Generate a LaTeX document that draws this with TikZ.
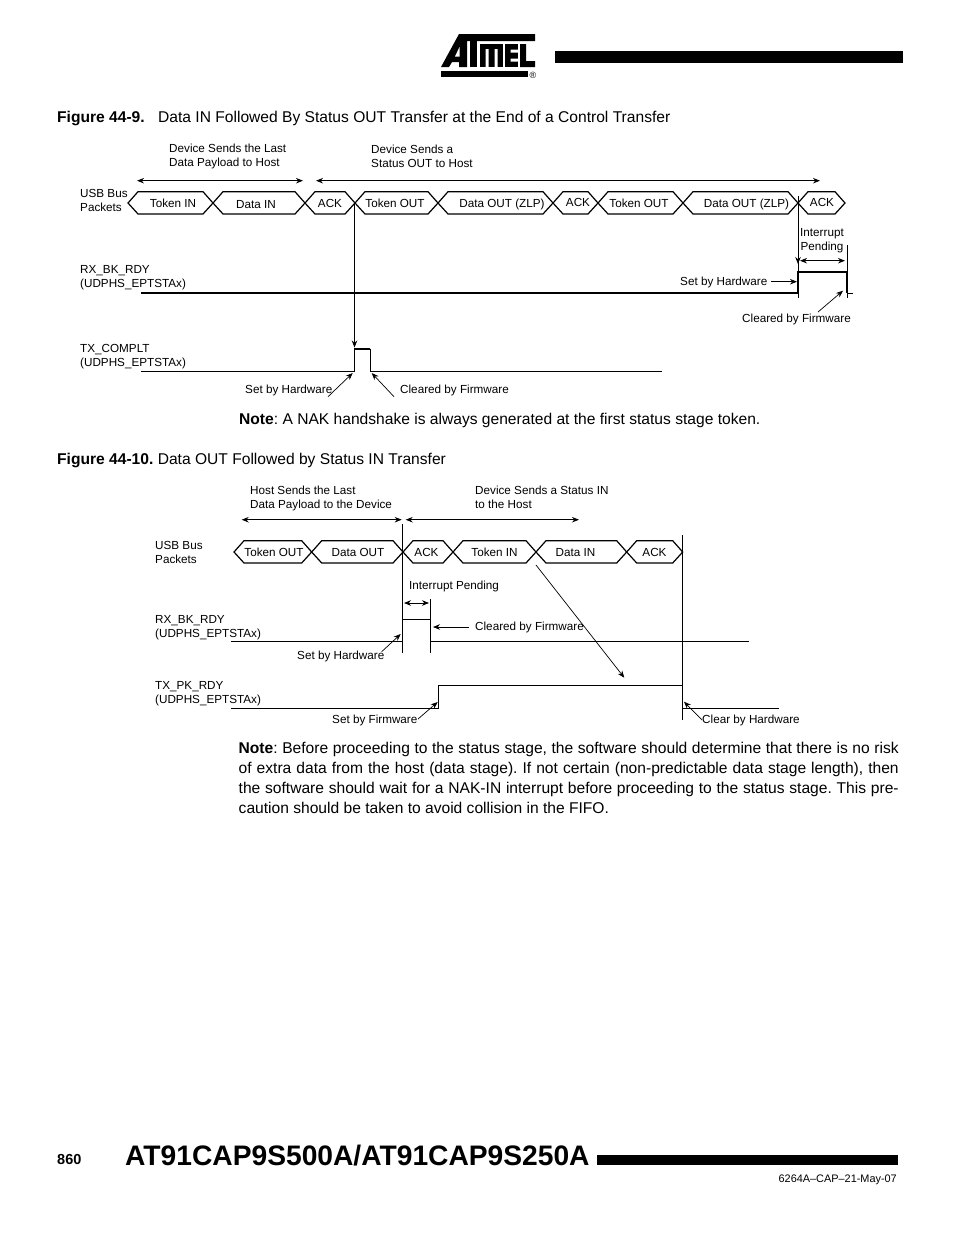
\documentclass[tikz,border=0pt]{standalone}
\usepackage{fontspec}
\setmainfont{Liberation Sans}
\usetikzlibrary{arrows.meta,calc}

\newcommand{\smalltxt}{\fontsize{11.7}{14}\selectfont}
\newcommand{\bodytxt}{\frenchspacing\fontsize{15.6}{20}\selectfont}

\tikzset{
  % --- labels
  lbl/.style={anchor=west,inner sep=0pt,align=left,font=\smalltxt},
  pkt/.style={inner sep=0pt,font=\smalltxt,text height=8.5pt,text depth=2.5pt},
  bodyline/.style={anchor=west,inner sep=0pt,font=\bodytxt},
  % --- line weights
  packet/.style={draw,line width=1.2pt,line join=miter},
  wave/.style={draw,line width=1.6pt},
  wavethin/.style={draw,line width=1pt},
  thin line/.style={draw,line width=0.7pt},
  ptr/.style={draw,line width=0.7pt,-{Stealth[length=7pt,width=5.5pt]}},
  span/.style={draw,line width=0.8pt,{Stealth[length=7pt,width=5.5pt]}-{Stealth[length=7pt,width=5.5pt]}},
  solidbar/.style={fill=black,draw=none},
}

\begin{document}
\begin{tikzpicture}[x=1pt,y=-1pt]
\useasboundingbox (0,0) rectangle (954,1235);

%========================
% Page header
%========================
\fill[white] (0,0) rectangle (954,1235);
\fill[solidbar] (555,51) rectangle (903,63);
% logo: band with the A, then T, M, E, L and the bar below
\fill[solidbar] (459,34) -- (535,34) -- (535,41) -- (467,41) -- (467,67) -- (459,67) -- (459,62)
  -- (452,62) -- (449,67) -- (441,67) -- cycle;
\fill[white] (459.5,47) -- (459.5,56.5) -- (455,56.5) -- cycle;
\fill[solidbar] (470,41) rectangle (477,67);
\fill[solidbar] (480,44) rectangle (503,67);
\fill[white] (485.5,49) rectangle (488.5,67) (494.5,49) rectangle (497.5,67);
\fill[solidbar] (505,44) rectangle (518,67);
\fill[white] (510.5,49.5) rectangle (518,52.5) (510.5,58.5) rectangle (518,61.5);
\fill[solidbar] (520,44) -- (526,44) -- (526,61) -- (535,61) -- (535,67) -- (520,67) -- cycle;
\fill[solidbar] (441,70.5) rectangle (528,76.5);
\node[inner sep=0pt,font=\fontsize{9}{9}\selectfont] (logoreg) at (533,75) {®};

%========================
% Figure 44-9
%========================
\node[bodyline] (figA) at (57,118.5) {\textbf{Figure 44-9.}};
\node[bodyline] (figAtitle) at (158,118.5) {Data IN Followed By Status OUT Transfer at the End of a Control Transfer};

\node[lbl] (sendA) at (169,156) {Device Sends the Last\\Data Payload to Host};
\node[lbl] (sendB) at (371,156) {Device Sends a\\Status OUT to Host};
\node[lbl] (usbA) at (80,200) {USB Bus\\Packets};
\node[lbl] (rxA) at (80,278) {RX\_BK\_RDY\\(UDPHS\_EPTSTAx)};
\node[lbl] (txA) at (80,356.5) {TX\_COMPLT\\(UDPHS\_EPTSTAx)};

\coordinate (spanAl) at (137,180.7);
\coordinate (spanAr) at (303,180.7);
\coordinate (spanBl) at (316,180.7);
\coordinate (spanBr) at (820,180.7);
\draw[span] (spanAl) -- (spanAr);
\draw[span] (spanBl) -- (spanBr);

% packets: start/end/label centre/label y/text
\foreach \xa/\xb/\xc/\yc/\txt in {
  128/213/173/204.3/Token IN,
  213/305/256/205.3/Data IN,
  305/355/330/204.3/ACK,
  355/438/395/204.3/Token OUT,
  438/553/502/204.7/Data OUT (ZLP),
  553/598/578/203.7/ACK,
  598/683/639/204.7/Token OUT,
  683/798/746.5/204.7/Data OUT (ZLP),
  798/845/822/203.7/ACK}{
  \draw[packet] (\xa,203) -- (\xa+10,191.7) -- (\xb-10,191.7) -- (\xb,203)
    -- (\xb-10,214) -- (\xa+10,214) -- cycle;
  \node[pkt] at (\xc,\yc) {\txt};
}

% RX_BK_RDY
\draw[wave] (141,293) -- (798,293) -- (798,271.7) -- (847,271.7) -- (847,293);
\draw[thin line] (847,293) -- (852.5,293);
\draw[thin line] (847,245) -- (847,298);
\draw[thin line] (798,196) -- (798,298);
\coordinate (edgeAtop) at (798,240);
\coordinate (edgeAtip) at (798,264);
\draw[ptr] (edgeAtop) -- (edgeAtip);
\node[lbl,align=center,anchor=center] (pendA) at (822,241) {Interrupt\\Pending};
\coordinate (pendAl) at (800,260.7);
\coordinate (pendAr) at (845,260.7);
\draw[span] (pendAl) -- (pendAr);
\node[lbl] (setA) at (680,282) {Set by Hardware};
\coordinate (setAfoot) at (771,281.7);
\coordinate (setAtip) at (797,281.7);
\draw[ptr] (setAfoot) -- (setAtip);
\node[lbl] (clrA) at (742,319) {Cleared by Firmware};
\coordinate (clrAfoot) at (818,312);
\coordinate (clrAtip) at (843,290.7);
\draw[ptr] (clrAfoot) -- (clrAtip);

% TX_COMPLT
\draw[wavethin] (141,371) -- (354.5,371);
\draw[wave] (354.5,371) -- (354.5,348.7) -- (370,348.7);
\draw[wavethin] (370,348.7) -- (370,371) -- (662,371);
\coordinate (ackEnd) at (354.5,204);
\coordinate (txAtip) at (354.5,347.5);
\draw[ptr] (ackEnd) -- (txAtip);
\node[lbl] (setB) at (245,390) {Set by Hardware};
\node[lbl] (clrB) at (400,390) {Cleared by Firmware};
\coordinate (setBfoot) at (328,396.7);
\coordinate (setBtip) at (352.7,373);
\coordinate (clrBfoot) at (394,396.7);
\coordinate (clrBtip) at (371.7,373);
\draw[ptr] (setBfoot) -- (setBtip);
\draw[ptr] (clrBfoot) -- (clrBtip);

\node[bodyline] (noteA) at (239,420.5) {\textbf{Note}: A NAK handshake is always generated at the first status stage token.};

%========================
% Figure 44-10
%========================
\node[bodyline] (figB) at (57,460.5) {\textbf{Figure 44-10.} Data OUT Followed by Status IN Transfer};

\node[lbl] (sendC) at (250,498) {Host Sends the Last\\Data Payload to the Device};
\node[lbl] (sendD) at (475,497) {Device Sends a Status IN\\to the Host};
\node[lbl] (usbB) at (155,552) {USB Bus\\Packets};
\node[lbl] (rxB) at (155,628) {RX\_BK\_RDY\\(UDPHS\_EPTSTAx)};
\node[lbl] (txB) at (155,694) {TX\_PK\_RDY\\(UDPHS\_EPTSTAx)};

\coordinate (spanCl) at (241.7,519.7);
\coordinate (spanCr) at (401.7,519.7);
\coordinate (spanDl) at (405.7,519.7);
\coordinate (spanDr) at (579,519.7);
\draw[span] (spanCl) -- (spanCr);
\draw[span] (spanDl) -- (spanDr);

\foreach \xa/\xb/\xc/\yc/\txt in {
  234/311.7/274/553.5/Token OUT,
  311.7/403/358/553.5/Data OUT,
  403/453/426.5/553.5/ACK,
  453/536/494.5/553.5/Token IN,
  536/626.7/575.5/553.5/Data IN,
  626.7/682.7/654.5/553.5/ACK}{
  \draw[packet] (\xa,552) -- (\xa+10,540.7) -- (\xb-10,540.7) -- (\xb,552)
    -- (\xb-10,563) -- (\xa+10,563) -- cycle;
  \node[pkt] at (\xc,\yc) {\txt};
}

% RX_BK_RDY
\draw[wavethin] (230.7,641.7) -- (402.3,641.7) -- (402.3,619) -- (430.3,619) -- (430.3,641.7) -- (749,641.7);
\draw[thin line] (402.3,524) -- (402.3,653);
\draw[thin line] (430.3,599) -- (430.3,653);
\node[lbl] (pendB) at (409,586) {Interrupt Pending};
\coordinate (pendBl) at (404,603);
\coordinate (pendBr) at (429,603);
\draw[span] (pendBl) -- (pendBr);
\node[lbl] (clrC) at (475,627) {Cleared by Firmware};
\coordinate (clrCfoot) at (469,627);
\coordinate (clrCtip) at (433,627);
\draw[ptr] (clrCfoot) -- (clrCtip);
\node[lbl] (setC) at (297,656) {Set by Hardware};
\coordinate (setCfoot) at (381.7,651.7);
\coordinate (setCtip) at (400.7,634);
\draw[ptr] (setCfoot) -- (setCtip);

% TX_PK_RDY
\draw[wavethin] (230.7,708.3) -- (438.5,708.3) -- (438.5,685.7) -- (682.7,685.7) -- (682.7,708.3) -- (779,708.3);
\draw[thin line] (682.7,535) -- (682.7,720);
\coordinate (dataInStart) at (536,565);
\coordinate (dataInTip) at (624.3,677.7);
\draw[ptr] (dataInStart) -- (dataInTip);
\node[lbl] (setD) at (332,720) {Set by Firmware};
\coordinate (setDfoot) at (418,719);
\coordinate (setDtip) at (437.7,702);
\draw[ptr] (setDfoot) -- (setDtip);
\node[lbl] (clrD) at (702,720) {Clear by Hardware};
\coordinate (clrDfoot) at (702,720);
\coordinate (clrDtip) at (684,701.7);
\draw[ptr] (clrDfoot) -- (clrDtip);

\node[anchor=north west,inner sep=0pt,text width=660pt,align=justify,font=\bodytxt] (noteB) at (238.5,741.5)
  {\textbf{Note}: Before proceeding to the status stage, the software should determine that there is no risk\linebreak
   of extra data from the host (data stage). If not certain (non-predictable data stage length), then\linebreak
   the software should wait for a NAK-IN interrupt before proceeding to the status stage. This pre-\linebreak
   caution should be taken to avoid collision in the FIFO.};

%========================
% Page footer
%========================
\node[anchor=west,inner sep=0pt,font=\fontsize{14.5}{18}\bfseries\selectfont] (pageno) at (57,1159) {860};
\node[anchor=west,inner sep=0pt,font=\fontsize{28.2}{30}\bfseries\selectfont] (partno) at (125,1156) {AT91CAP9S500A/AT91CAP9S250A};
\fill[solidbar] (597,1155) rectangle (898,1165);
\node[anchor=east,inner sep=0pt,font=\fontsize{10.9}{13}\selectfont] (docno) at (897,1179.5) {6264A–CAP–21-May-07};

\end{tikzpicture}
\end{document}
